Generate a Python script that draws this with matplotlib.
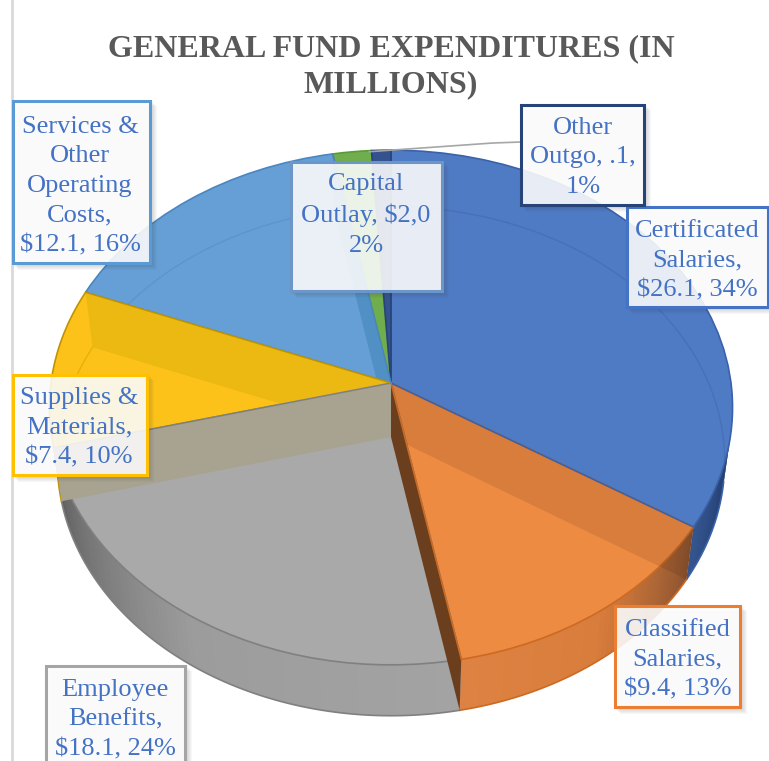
import numpy as np
import matplotlib
matplotlib.use('Agg')
import matplotlib.pyplot as plt
from matplotlib.colors import to_rgb
from matplotlib.patches import Rectangle, Polygon
from matplotlib.transforms import Transform

# chart data
categories = ['Certificated Salaries', 'Classified Salaries', 'Employee Benefits',
              'Supplies & Materials', 'Services & Other Operating Costs',
              'Capital Outlay', 'Other Outgo']
percents = [34, 13, 24, 10, 16, 2, 1]
label_texts = ['Certificated\nSalaries,\n$26.1, 34%',
               'Classified\nSalaries,\n$9.4, 13%',
               'Employee\nBenefits,\n$18.1, 24%',
               'Supplies &\nMaterials,\n$7.4, 10%',
               'Services &\nOther\nOperating\nCosts,\n$12.1, 16%',
               'Capital\nOutlay, $2,0\n2%',
               'Other\nOutgo, .1,\n1%']
title = 'GENERAL FUND EXPENDITURES (IN\nMILLIONS)'

# styles
top_colors = ['#4F7BC4', '#ED8B43', '#A9A9A9', '#FDC219', '#659FD5', '#70AD4D', '#34528E']
edge_colors = ['#3A62A8', '#CC6A22', '#808080', '#C09400', '#4A86C0', '#5A9A3A', '#264478']
box_edges = ['#4472C4', '#ED7D31', '#A5A5A5', '#FFC000', '#5B9BD5', '#6C96C8', '#264478']
box_pos = [(627, 207, 768, 307), (615, 606, 740, 707), (46, 666, 185, 775),
           (13, 375, 147, 475), (13, 101, 150, 263), (291, 162, 442, 291),
           (521, 105, 644, 205)]
text_pos = [(697, 260.5), (677.5, 659.5), (115, 719.5), (79, 427.5), (80, 186), (366, 215), (583, 157.5)]
wall_colors = [['#1F3A6C', '#35558F'], ['#8C5430', '#D97D3C', '#DD8242'],
               ['#A3A3A3', '#9C9C9C', '#5E5E5E'], ['#7A6C30', '#B8961E'],
               ['#4A86C0', '#4A86C0'], ['#5A9A3A', '#5A9A3A'], ['#264478', '#264478']]
band_colors = {0: (0.2, 0.05, 0, 0.11), 1: '#6B3E1E', 2: '#A8A290', 3: '#EBB912', 4: '#5190C5'}
DEPTH = 54
CX, CY = 391, 383


class Perspective(Transform):
    # tilted disc, the centre of the circle is not the centre of the ellipse
    input_dims = output_dims = 2

    def __init__(self, sx=1.0, sy=1.0, shift=0.0):
        super().__init__()
        self.sx = sx
        self.sy = sy
        self.shift = shift

    def transform_non_affine(self, xy):
        xy = np.asarray(xy, dtype=float)
        w = 1 + 0.0952 * xy[:, 1]
        return np.column_stack([CX + self.sx * 340 * xy[:, 0] / w,
                                CY + self.shift - self.sy * 255 * xy[:, 1] / w])


top_tf = Perspective()
bottom_tf = Perspective(0.977, 0.989, DEPTH)


def rim(angles, tf):
    a = np.radians(angles)
    return tf.transform_non_affine(np.column_stack([np.sin(a), np.cos(a)]))


def blend(stops, t):
    cols = np.array([to_rgb(c) for c in stops])
    pos = np.linspace(0, 1, len(stops))
    return [np.interp(t, pos, cols[:, k]) for k in range(3)]


fig = plt.figure(figsize=(7.69, 7.61), dpi=100)
ax = fig.add_axes([0, 0, 1, 1])

wedges, _ = ax.pie(percents, startangle=90, counterclock=False, colors=top_colors,
                   wedgeprops={'linewidth': 1.2})
ax.set_aspect('auto')
ax.set_xlim(0, 769)
ax.set_ylim(761, 0)
ax.axis('off')

ends = np.cumsum(percents) * 3.6
starts = ends - np.array(percents) * 3.6

# outer wall of the disc, strip by strip for the shading
for i in range(len(percents)):
    lo, hi = max(starts[i], 100), min(ends[i], 275)
    if lo >= hi:
        continue
    steps = np.linspace(lo, hi, int(hi - lo) + 2)
    for j in range(len(steps) - 1):
        arc = np.array([steps[j], min(steps[j + 1] + 1.2, hi)])
        pts = np.vstack([rim(arc, top_tf), rim(arc[::-1], bottom_tf)])
        c = blend(wall_colors[i], j / max(len(steps) - 2, 1))
        ax.add_patch(Polygon(pts, fc=c, ec='none', zorder=1))
    arc = np.linspace(lo, hi, 80)
    pts = rim(arc, bottom_tf)
    ax.plot(pts[:, 0], pts[:, 1], color=edge_colors[i], lw=1.2, zorder=1.5)

for i, w in enumerate(wedges):
    w.set_transform(top_tf + ax.transData)
    w.set_edgecolor(edge_colors[i])
    w.set_zorder(2)

# cut faces of the slices seen through the top
for i, col in band_colors.items():
    a = [ends[i]]
    pts = np.vstack([[CX, CY], rim(a, top_tf), rim(a, bottom_tf), [CX, CY + DEPTH]])
    band = Polygon(pts, fc=col, ec='none', zorder=3)
    ax.add_patch(band)
    if i >= 3:
        band.set_clip_path(wedges[i])
    rim_line = rim(a, top_tf)[0]
    ax.plot([CX, rim_line[0]], [CY, rim_line[1]], color=edge_colors[i], lw=1.1, zorder=3.2)

# bottom edge of the disc seen through the top
for i in [0, 3, 4]:
    arc = np.linspace(starts[i], ends[i], 120)
    pts = rim(arc, bottom_tf)
    ln, = ax.plot(pts[:, 0], pts[:, 1], color=edge_colors[i], lw=1.0, alpha=0.4, zorder=2.5)
    ln.set_clip_path(wedges[i])

# frame edge on the left
ax.plot([12, 12], [0, 761], color='#D9D9D9', lw=2, zorder=0.5)

# leader line of the smallest slice
mid = rim([ends[6] - 4], top_tf)[0]
ax.plot([mid[0], 493, 521], [mid[1] + 1, 143, 142], color='#A6A6A6', lw=1.2, zorder=4)

ax.text(391, 67, title, ha='center', va='center', family='Liberation Serif',
        fontweight='bold', fontsize=23, color='#595959', linespacing=1.3)

for i, txt in enumerate(label_texts):
    x0, y0, x1, y1 = box_pos[i]
    for k in range(1, 6):
        ax.add_patch(Rectangle((x0 + k, y0 + k), x1 - x0 + 2, y1 - y0 + 2, fc='#404040',
                               ec='none', alpha=0.04, zorder=5))
    ax.add_patch(Rectangle((x0, y0), x1 - x0, y1 - y0, fc=(1, 1, 1, 0.88),
                           ec=box_edges[i], lw=2.2, zorder=6))
    ax.text(text_pos[i][0], text_pos[i][1], txt, ha='center', va='center', color='#4472C4',
            family='Liberation Serif', fontsize=19, linespacing=1.45, zorder=7, parse_math=False)

fig.savefig('out.png', dpi=100)
